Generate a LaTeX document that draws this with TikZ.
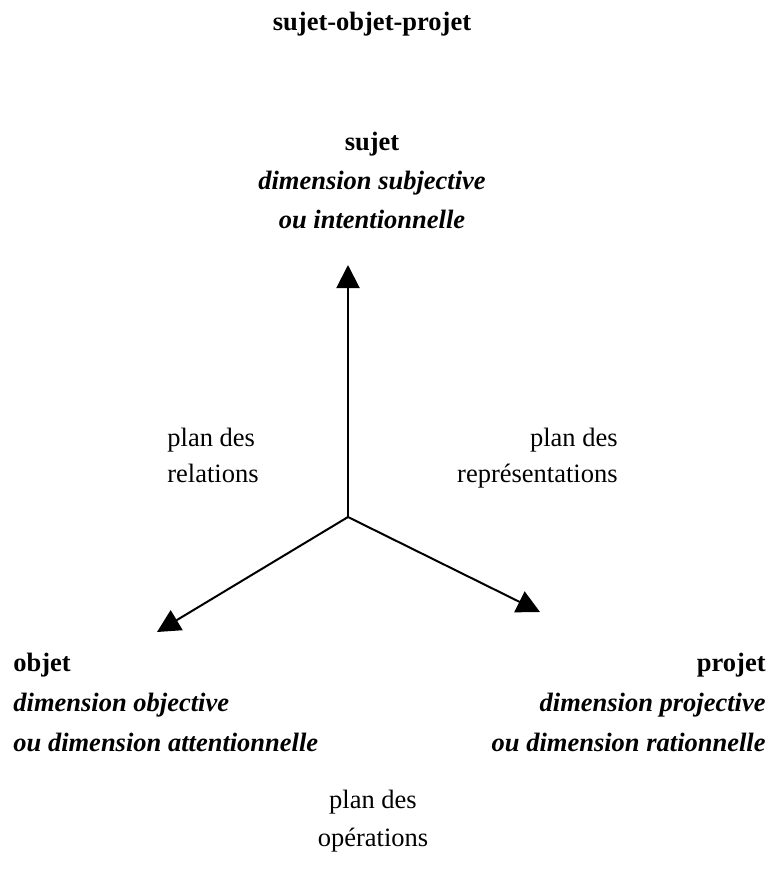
\documentclass[tikz,border=0pt]{standalone}
\usepackage{fontspec}
\setmainfont{Liberation Serif}
\usetikzlibrary{arrows.meta}

\tikzset{
	fleche/.style={line width=1pt, -{Triangle[width=11.5pt,length=11.5pt]}},
	titre/.style={anchor=base, inner sep=0pt, font=\fontsize{13.25}{20}\selectfont\bfseries},
	dim/.style={inner sep=0pt, font=\fontsize{13.25}{20}\selectfont\bfseries\itshape},
	plan/.style={inner sep=0pt, font=\fontsize{13.25}{20}\selectfont}
}

\begin{document}
\begin{tikzpicture}[x=0.5pt, y=-0.5pt]
	\useasboundingbox (0,0) rectangle (774,874);
	\node[titre] (titre) at (372,30) {sujet-objet-projet};

	% pole sujet
	\node[titre] (sujet) at (372,150) {sujet};
	\node[dim, anchor=base] (sujetA) at (372,189) {dimension subjective};
	\node[dim, anchor=base] (sujetB) at (372,228) {ou intentionnelle};

	% les trois axes
	\coordinate (centre) at (348,517);
	\coordinate (haut) at (348,265);
	\coordinate (gauche) at (157,632);
	\coordinate (droite) at (540,612);
	\draw[fleche] (centre) -- (haut);
	\draw[fleche] (centre) -- (gauche);
	\draw[fleche] (centre) -- (droite);

	\node[plan, anchor=base west] (relA) at (167,446) {plan des};
	\node[plan, anchor=base west] (relB) at (167,482) {relations};
	\node[plan, anchor=base east] (repA) at (618,446) {plan des};
	\node[plan, anchor=base east] (repB) at (618,482) {représentations};

	% pole objet
	\node[titre, anchor=base west] (objet) at (13,671) {objet};
	\node[dim, anchor=base west] (objetA) at (13,711) {dimension objective};
	\node[dim, anchor=base west] (objetB) at (13,751) {ou dimension attentionnelle};

	% pole projet
	\node[titre, anchor=base east] (projet) at (766,671) {projet};
	\node[dim, anchor=base east] (projetA) at (766,711) {dimension projective};
	\node[dim, anchor=base east] (projetB) at (766,751) {ou dimension rationnelle};

	\node[plan, anchor=base] (opA) at (373,808) {plan des};
	\node[plan, anchor=base] (opB) at (373,846) {opérations};
\end{tikzpicture}
\end{document}
